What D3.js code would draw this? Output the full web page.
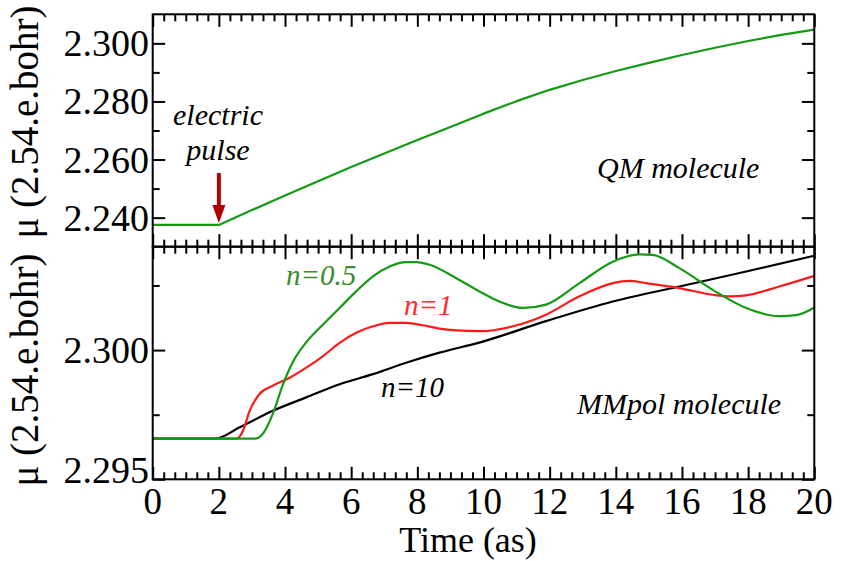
<!DOCTYPE html>
<html><head><meta charset="utf-8">
<script src="https://cdn.jsdelivr.net/npm/d3@7"></script>
<style>body{margin:0;background:#fff}svg{display:block}text{font-family:"Liberation Serif","Times New Roman",serif}</style>
</head><body>
<svg id="chart" width="841" height="561"></svg>
<script>
// ---- data ----
const qmTime  = [0, 2, 3, 4, 5, 6, 7, 8, 9, 10, 11, 12, 13, 14, 15, 16, 17, 18, 19, 20];
const qmValue = [2.2375, 2.2375, 2.2426, 2.2476, 2.2525, 2.2574, 2.2621, 2.2667, 2.2712, 2.2758, 2.2801, 2.2840, 2.2874, 2.2905, 2.2933, 2.2960, 2.2985, 2.3008, 2.3029, 2.3047];

const n10Time  = [0, 1.87, 2.63, 3.63, 4.64, 5.65, 6.66, 7.66, 8.67, 9.9, 11.89, 13.91, 15.92, 17.94, 20];
const n10Value = [2.29657, 2.29657, 2.29701, 2.29765, 2.29817, 2.29868, 2.29907, 2.29951, 2.29990, 2.30030, 2.30112, 2.30188, 2.30246, 2.30304, 2.30365];

const n1Time  = [0, 2.53, 2.73, 2.93, 3.23, 3.63, 4.14, 4.64, 5.15, 5.65, 6.15, 6.66, 7.16, 7.66, 8.17, 8.67, 9.18, 9.88, 10.89, 11.89, 12.90, 13.91, 14.41, 14.92, 15.92, 16.93, 17.43, 17.94, 18.94, 20];
const n1Value = [2.29657, 2.29657, 2.29688, 2.29765, 2.29830, 2.29862, 2.29893, 2.29932, 2.29977, 2.30028, 2.30067, 2.30092, 2.30105, 2.30105, 2.30096, 2.30083, 2.30076, 2.30073, 2.30092, 2.30137, 2.30208, 2.30259, 2.30268, 2.30259, 2.30240, 2.30214, 2.30208, 2.30212, 2.30246, 2.30287];

const n05Time  = [0, 3.08, 3.33, 3.63, 3.94, 4.24, 4.64, 5.15, 5.65, 6.15, 6.66, 7.16, 7.66, 7.97, 8.37, 9.18, 9.88, 10.48, 11.19, 11.89, 12.90, 13.91, 14.71, 15.12, 15.92, 16.93, 17.94, 18.94, 19.45, 20];
const n05Value = [2.29657, 2.29657, 2.29676, 2.29753, 2.29868, 2.29955, 2.30030, 2.30099, 2.30163, 2.30227, 2.30285, 2.30323, 2.30340, 2.30340, 2.30330, 2.30278, 2.30227, 2.30188, 2.30163, 2.30176, 2.30259, 2.30342, 2.30370, 2.30368, 2.30317, 2.30233, 2.30163, 2.30131, 2.30135, 2.30165];

const xMajorTicks = [0, 2, 4, 6, 8, 10, 12, 14, 16, 18, 20];
const xTickLabels = ["0", "2", "4", "6", "8", "10", "12", "14", "16", "18", "20"];
const topMajorTicks = [2.24, 2.26, 2.28, 2.30];
const topTickLabels = ["2.240", "2.260", "2.280", "2.300"];
const topMinorTicks = [2.25, 2.27, 2.29];
const botMajorTicks = [2.295, 2.300];
const botTickLabels = ["2.295", "2.300"];
const botMinorTicks = [2.2975, 2.3025];

// ---- layout ----
const L = 152.7, R = 814.3, T1 = 14.3, MID = 246.7, B2 = 479.3;
const FONT = '"Liberation Serif","Times New Roman",serif';
const svg = d3.select("#chart");

const x = d3.scaleLinear().domain([0, 20]).range([L, R]);
const yTop = d3.scaleLinear().domain([2.23, 2.31]).range([MID, T1]);
const yBot = d3.scaleLinear().domain([2.295, 2.304]).range([B2, MID]);

const xMinor = d3.range(0, 61).map(i => i / 3).filter(v => Math.abs(v / 2 - Math.round(v / 2)) > 1e-6);

function txt(g, px, py, s, size, o = {}) {
  return g.append("text")
    .attr("transform", `translate(${px},${py})${o.rot ? " rotate(-90)" : ""}`)
    .attr("text-anchor", o.anchor || "start")
    .style("font-family", FONT)
    .style("font-size", size + "px")
    .style("font-style", o.italic ? "italic" : "normal")
    .attr("fill", o.color || "#000")
    .text(s);
}

function drawTicks(yScale, yMaj, yMin, top, bottom) {
  const g = svg.append("g");
  const bigL = 12.5, smL = 7;
  g.append("g").attr("transform", `translate(0,${bottom})`)
    .call(d3.axisBottom(x).tickValues(xMajorTicks).tickSize(-bigL).tickFormat(""));
  g.append("g").attr("transform", `translate(0,${bottom})`)
    .call(d3.axisBottom(x).tickValues(xMinor).tickSize(-smL).tickFormat(""));
  g.append("g").attr("transform", `translate(0,${top})`)
    .call(d3.axisTop(x).tickValues(xMajorTicks).tickSize(-bigL).tickFormat(""));
  g.append("g").attr("transform", `translate(0,${top})`)
    .call(d3.axisTop(x).tickValues(xMinor).tickSize(-smL).tickFormat(""));
  g.append("g").attr("transform", `translate(${L},0)`)
    .call(d3.axisLeft(yScale).tickValues(yMaj).tickSize(-bigL).tickFormat(""));
  g.append("g").attr("transform", `translate(${L},0)`)
    .call(d3.axisLeft(yScale).tickValues(yMin).tickSize(-smL).tickFormat(""));
  g.append("g").attr("transform", `translate(${R},0)`)
    .call(d3.axisRight(yScale).tickValues(yMaj).tickSize(-bigL).tickFormat(""));
  g.append("g").attr("transform", `translate(${R},0)`)
    .call(d3.axisRight(yScale).tickValues(yMin).tickSize(-smL).tickFormat(""));
  g.selectAll(".domain").remove();
  g.selectAll(".tick line").attr("stroke", "#000").attr("stroke-width", 2);
}

drawTicks(yTop, topMajorTicks, topMinorTicks, T1, MID);
drawTicks(yBot, botMajorTicks, botMinorTicks, MID, B2);

const mk = (ys, c) => d3.line().x(d => x(d[0])).y(d => ys(d[1])).curve(c || d3.curveMonotoneX);
const zip = (a, b) => a.map((v, i) => [v, b[i]]);

const plotTop = svg.append("g");
plotTop.append("path").datum(zip(qmTime, qmValue)).attr("d", mk(yTop, d3.curveLinear))
  .attr("fill", "none").attr("stroke", "#149a14").attr("stroke-width", 2.2).attr("stroke-linejoin", "round");

const plotBot = svg.append("g");
plotBot.append("path").datum(zip(n10Time, n10Value)).attr("d", mk(yBot))
  .attr("fill", "none").attr("stroke", "#000").attr("stroke-width", 2.2);
plotBot.append("path").datum(zip(n1Time, n1Value)).attr("d", mk(yBot))
  .attr("fill", "none").attr("stroke", "#ff1a1a").attr("stroke-width", 2.2);
plotBot.append("path").datum(zip(n05Time, n05Value)).attr("d", mk(yBot))
  .attr("fill", "none").attr("stroke", "#149a14").attr("stroke-width", 2.2);

svg.append("rect").attr("x", L).attr("y", T1).attr("width", R - L).attr("height", MID - T1)
  .attr("fill", "none").attr("stroke", "#000").attr("stroke-width", 2);
svg.append("rect").attr("x", L).attr("y", MID).attr("width", R - L).attr("height", B2 - MID)
  .attr("fill", "none").attr("stroke", "#000").attr("stroke-width", 2);

// tick labels
topMajorTicks.forEach((v, i) => txt(svg, 149, yTop(v) + 13, topTickLabels[i], 38, {anchor: "end"}));
botMajorTicks.forEach((v, i) => txt(svg, 149, v === 2.295 ? 483 : yBot(v) + 13, botTickLabels[i], 38, {anchor: "end"}));
xMajorTicks.forEach((v, i) => txt(svg, x(v), 514, xTickLabels[i], 37, {anchor: "middle"}));

// axis titles
txt(svg, 468, 552, "Time (as)", 36, {anchor: "middle"});
txt(svg, 38, 122, "μ (2.54.e.bohr)", 39, {anchor: "middle", rot: true});
txt(svg, 38, 370, "μ (2.54.e.bohr)", 39, {anchor: "middle", rot: true});

// annotations
txt(svg, 218, 125, "electric", 30, {anchor: "middle", italic: true});
txt(svg, 218, 160, "pulse", 30, {anchor: "middle", italic: true});
txt(svg, 597, 178, "QM molecule", 30, {italic: true});
txt(svg, 577, 414, "MMpol molecule", 30, {italic: true});
txt(svg, 286, 285, "n=0.5", 29, {italic: true, color: "#3d8b2a"});
txt(svg, 404, 315, "n=1", 29, {italic: true, color: "#ff2a2a"});
txt(svg, 381, 397, "n=10", 29, {italic: true});

// arrow (electric pulse)
const ax = x(2);
svg.append("line").attr("x1", ax).attr("x2", ax).attr("y1", 173).attr("y2", 208)
  .attr("stroke", "#b00000").attr("stroke-width", 4);
svg.append("path")
  .attr("d", `M${ax - 6.5},205 L${ax + 6.5},205 L${ax},${yTop(2.2375) - 2} Z`)
  .attr("fill", "#b00000");
</script>
</body></html>
